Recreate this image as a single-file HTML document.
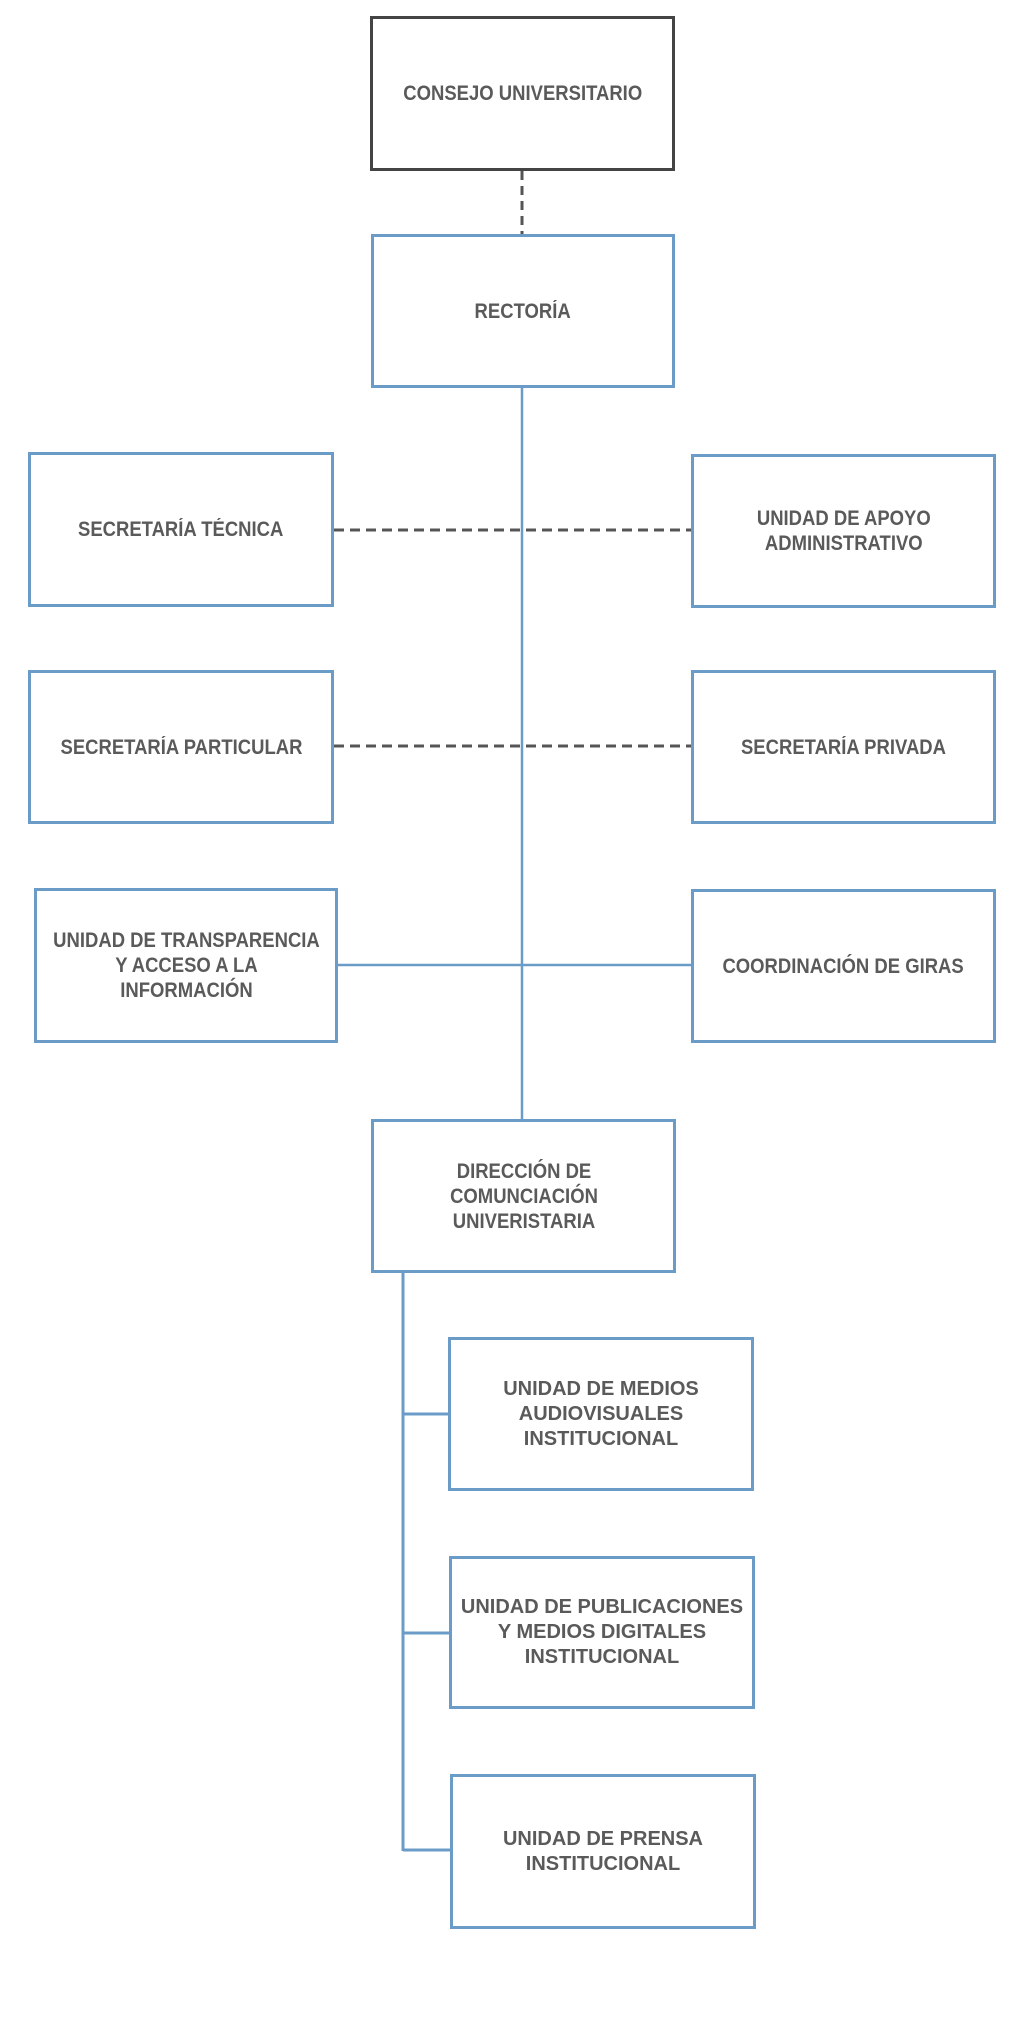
<!DOCTYPE html>
<html><head><meta charset="utf-8"><style>
body{margin:0;width:1012px;height:2028px;background:#fff;position:relative;overflow:hidden}
.b{position:absolute;box-sizing:border-box;border:3px solid #6b9cc8;display:flex;align-items:center;justify-content:center;text-align:center;font-family:"Liberation Sans",sans-serif;font-weight:bold;color:#5a5a5a;font-size:21px;line-height:25px}
.c span{display:inline-block;transform:scaleX(0.88);white-space:nowrap}
svg{position:absolute;left:0;top:0}
</style></head><body>
<svg width="1012" height="2028">
<line x1="522" y1="171" x2="522" y2="234" stroke="#555" stroke-width="3" stroke-dasharray="9,6"/>
<line x1="522" y1="388" x2="522" y2="1119" stroke="#6b9cc8" stroke-width="2.5"/>
<line x1="334" y1="530" x2="691" y2="530" stroke="#555" stroke-width="3" stroke-dasharray="10,6"/>
<line x1="334" y1="746" x2="691" y2="746" stroke="#555" stroke-width="3" stroke-dasharray="10,6"/>
<line x1="338" y1="965" x2="691" y2="965" stroke="#6b9cc8" stroke-width="2.5"/>
<line x1="403" y1="1273" x2="403" y2="1851" stroke="#6b9cc8" stroke-width="3"/>
<line x1="403" y1="1414" x2="448" y2="1414" stroke="#6b9cc8" stroke-width="3"/>
<line x1="403" y1="1633" x2="449" y2="1633" stroke="#6b9cc8" stroke-width="3"/>
<line x1="403" y1="1850" x2="450" y2="1850" stroke="#6b9cc8" stroke-width="3"/>
</svg>
<div class="b c" style="left:370px;top:16px;width:305px;height:155px;border-color:#444"><span>CONSEJO UNIVERSITARIO</span></div>
<div class="b c" style="left:371px;top:234px;width:304px;height:154px"><span>RECTORÍA</span></div>
<div class="b c" style="left:28px;top:452px;width:306px;height:155px"><span>SECRETARÍA TÉCNICA</span></div>
<div class="b c" style="left:691px;top:454px;width:305px;height:154px"><span>UNIDAD DE APOYO<br>ADMINISTRATIVO</span></div>
<div class="b c" style="left:28px;top:670px;width:306px;height:154px"><span>SECRETARÍA PARTICULAR</span></div>
<div class="b c" style="left:691px;top:670px;width:305px;height:154px"><span>SECRETARÍA PRIVADA</span></div>
<div class="b c" style="left:34px;top:888px;width:304px;height:155px"><span>UNIDAD DE TRANSPARENCIA<br>Y ACCESO A LA<br>INFORMACIÓN</span></div>
<div class="b c" style="left:691px;top:889px;width:305px;height:154px"><span>COORDINACIÓN DE GIRAS</span></div>
<div class="b c" style="left:371px;top:1119px;width:305px;height:154px"><span>DIRECCIÓN DE<br>COMUNCIACIÓN<br>UNIVERISTARIA</span></div>
<div class="b" style="left:448px;top:1337px;width:306px;height:154px;font-size:20px;line-height:25px">UNIDAD DE MEDIOS<br>AUDIOVISUALES<br>INSTITUCIONAL</div>
<div class="b" style="left:449px;top:1556px;width:306px;height:153px;font-size:20px;line-height:25px;white-space:nowrap">UNIDAD DE PUBLICACIONES<br>Y MEDIOS DIGITALES<br>INSTITUCIONAL</div>
<div class="b" style="left:450px;top:1774px;width:306px;height:155px;font-size:20px;line-height:25px">UNIDAD DE PRENSA<br>INSTITUCIONAL</div>
</body></html>
